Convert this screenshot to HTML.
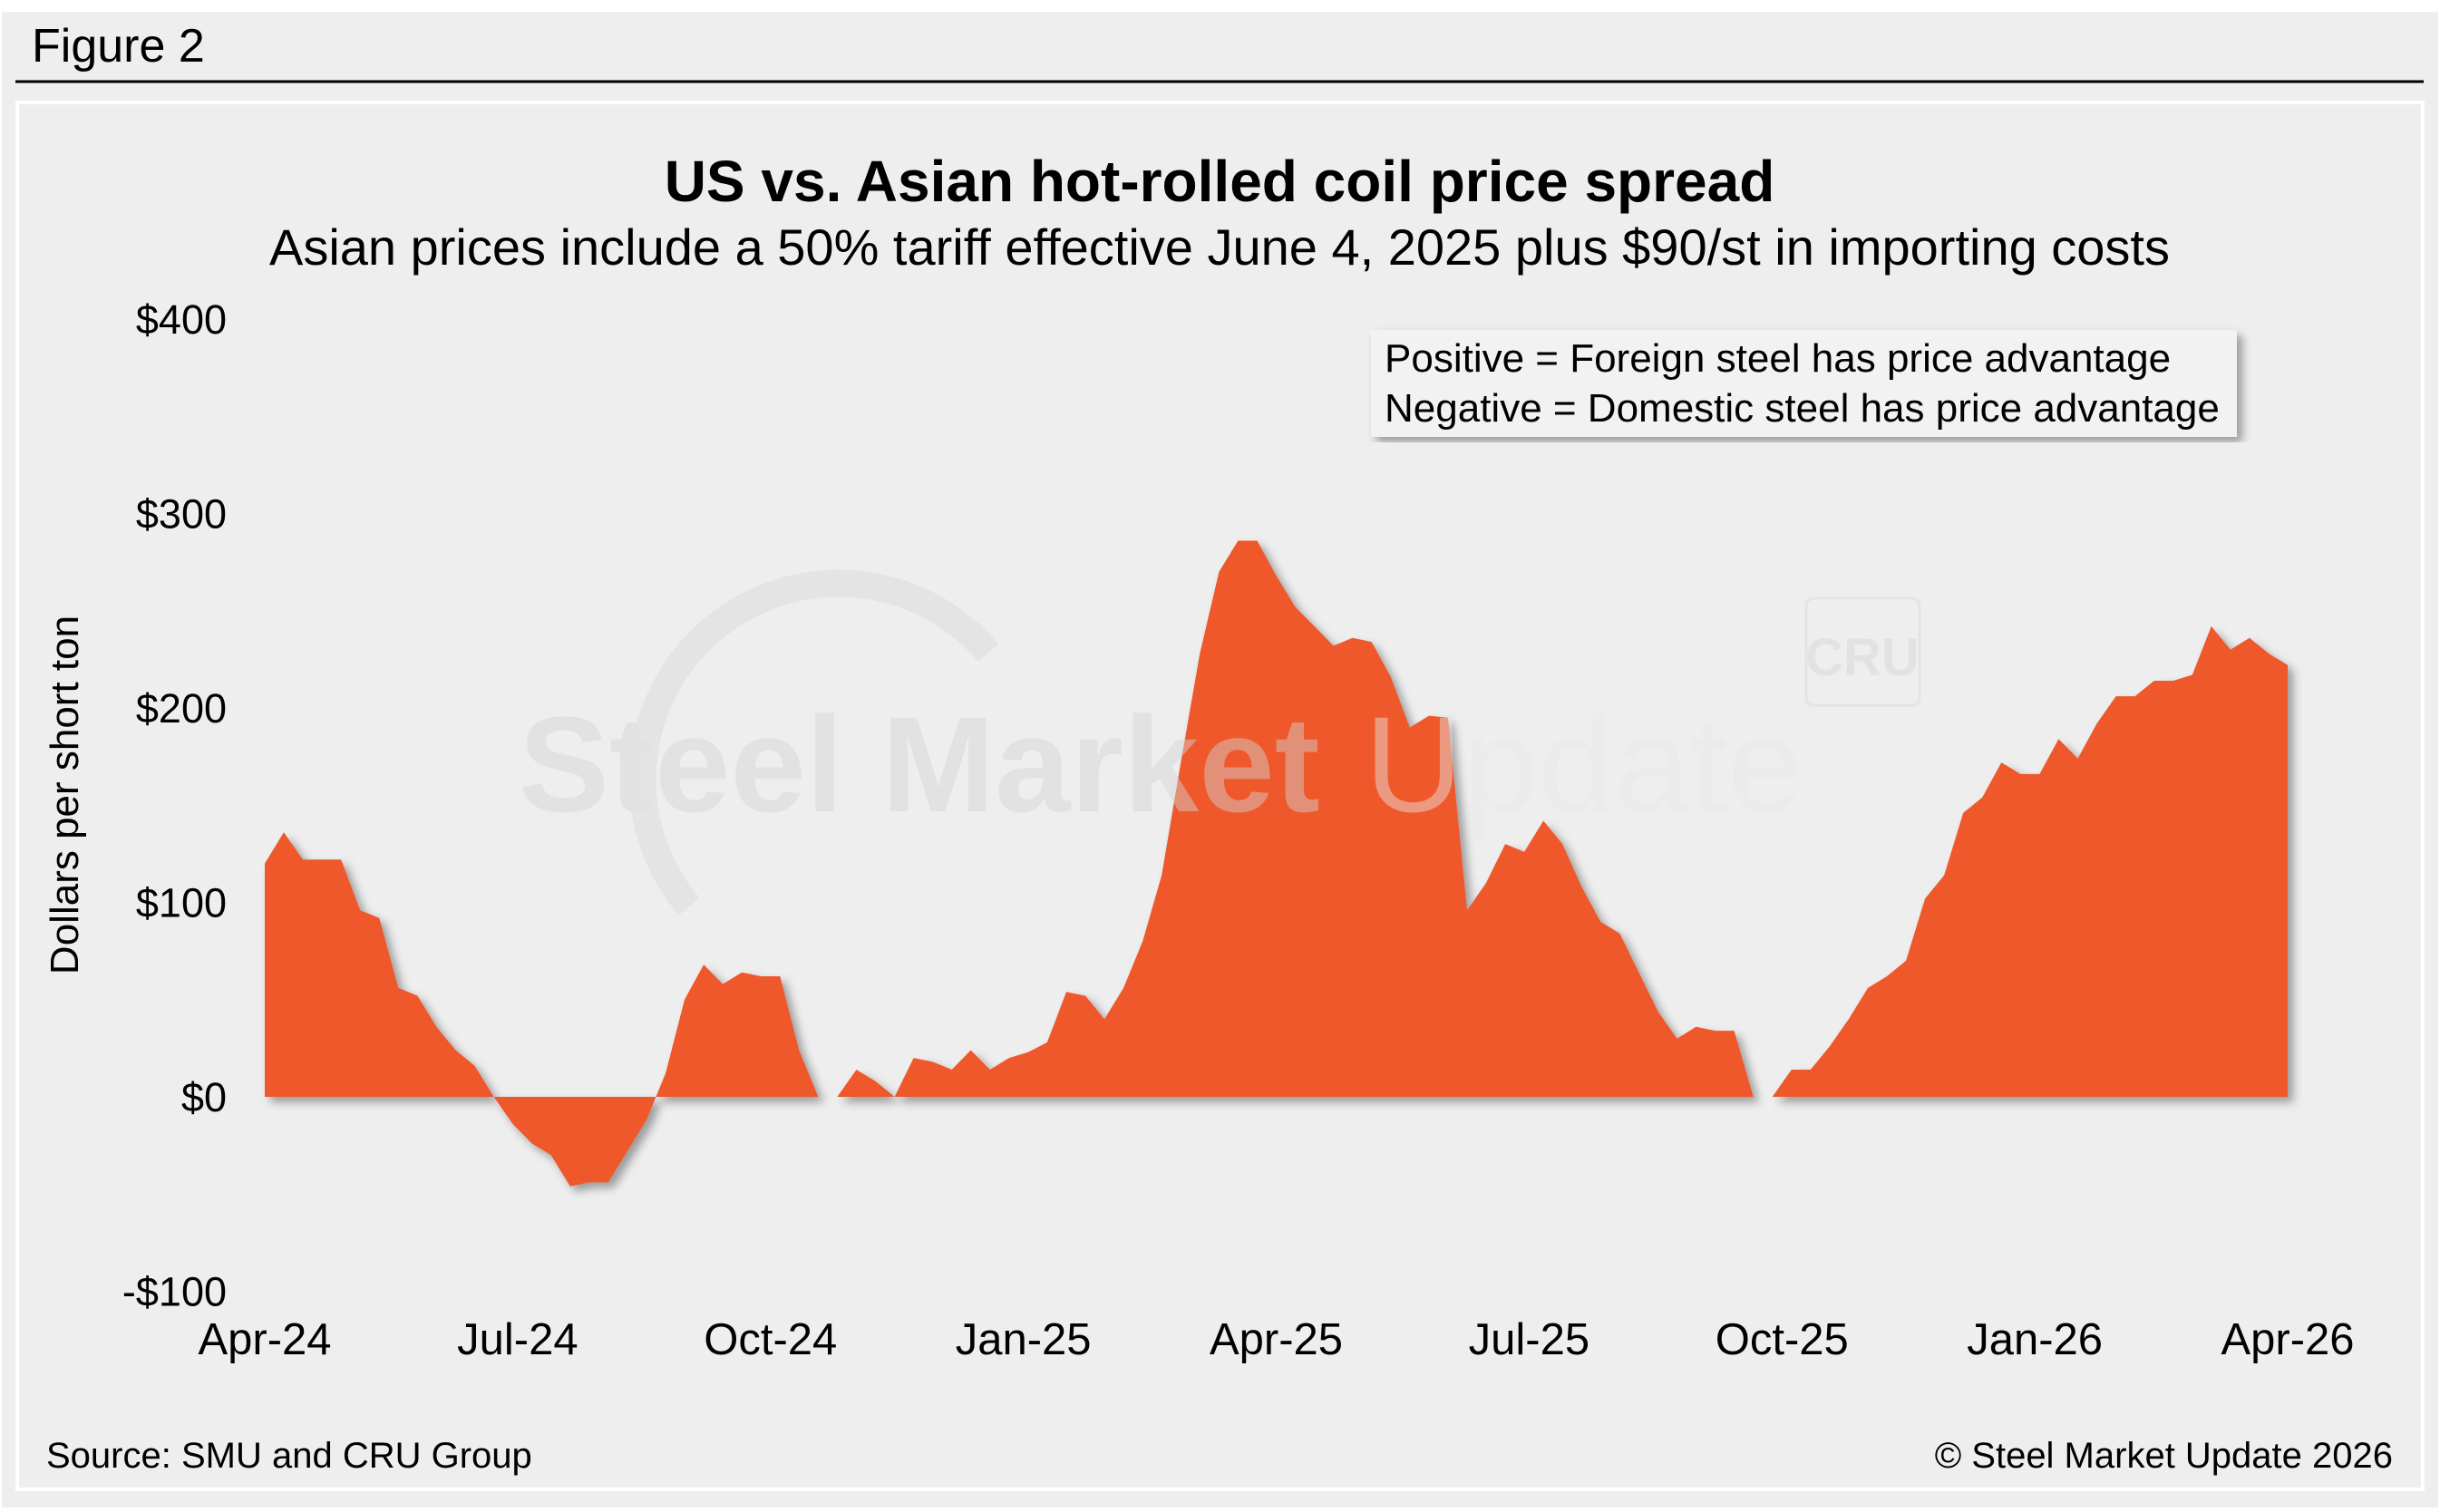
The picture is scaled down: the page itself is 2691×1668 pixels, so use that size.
<!DOCTYPE html>
<html><head><meta charset="utf-8">
<style>
html,body{margin:0;padding:0;background:#fff;}
body{width:2691px;height:1663px;position:relative;overflow:hidden;font-family:"Liberation Sans",sans-serif;}
</style></head>
<body>
<svg id="chart" width="2691" height="1663" viewBox="0 0 2691 1663" xmlns="http://www.w3.org/2000/svg">
<defs>
<filter id="sh" x="-5%" y="-5%" width="110%" height="110%">
<feDropShadow dx="6" dy="6" stdDeviation="5" flood-color="#000" flood-opacity="0.35"/>
</filter>
</defs>
<rect x="2" y="13" width="2687" height="1650" fill="#eeeeee"/>
<text x="35" y="68" font-size="52" fill="#000">Figure 2</text>
<line x1="17" y1="90" x2="2673" y2="90" stroke="#000" stroke-width="3"/>
<rect x="19" y="113" width="2653" height="1530" fill="none" stroke="#fff" stroke-width="4"/>
<text x="1345" y="222" font-size="64" font-weight="bold" text-anchor="middle">US vs. Asian hot-rolled coil price spread</text>
<text x="1345" y="292" font-size="56" text-anchor="middle">Asian prices include a 50% tariff effective June 4, 2025 plus $90/st in importing costs</text>
<g id="yaxis"></g>
<g id="xaxis"></g>
<g id="plot"></g>
<g id="watermark" opacity="0.45">
<path d="M 760 1000 A 190 190 0 1 1 1090 720" fill="none" stroke="#d8d8d8" stroke-width="30"/>
<text x="572" y="895" font-size="150" font-weight="bold" fill="#d4d4d4">Steel Market</text>
<text x="1505" y="895" font-size="150" fill="#e8e8e8">Update</text>
<rect x="1992" y="660" width="125" height="118" rx="8" fill="none" stroke="#d8d8d8" stroke-width="3"/>
<text x="2054" y="745" font-size="58" font-weight="bold" fill="#d4d4d4" text-anchor="middle">CRU</text>
</g>
<text transform="translate(86,877) rotate(-90)" font-size="44" text-anchor="middle">Dollars per short ton</text>
<g filter="url(#sh)">
<rect x="1512" y="364" width="955" height="118" fill="#f2f2f2"/>
</g>
<text x="1527" y="410" font-size="44">Positive = Foreign steel has price advantage</text>
<text x="1527" y="465" font-size="44">Negative = Domestic steel has price advantage</text>
<text x="51" y="1619" font-size="40">Source: SMU and CRU Group</text>
<text x="2639" y="1619" font-size="40" text-anchor="end">© Steel Market Update 2026</text>
</svg>
<script>
const values = [120,136,122,122,122,96,92,56,52,36,24,16,0,-14,-24,-30,-46,-44,-44,-28,-12,12,50,68,58,64,62,62,24,0,0,14,8,0,20,18,14,24,14,20,23,28,54,52,40,56,80,114,172,228,270,286,286,268,252,242,232,236,234,216,190,196,195,96,110,130,126,142,130,108,90,84,64,44,30,36,34,34,0,0,14,14,26,40,56,62,70,102,114,146,154,172,166,166,184,174,192,206,206,214,214,217,242,230,236,228,222];
const xTickLabels = ["Apr-24","Jul-24","Oct-24","Jan-25","Apr-25","Jul-25","Oct-25","Jan-26","Apr-26"];
const yTicks = [400,300,200,100,0,-100];
const yTickLabels = ["$400","$300","$200","$100","$0","-$100"];
const NS="http://www.w3.org/2000/svg";
const X0=292,X1=2523,Y0=1210,PX=2.145;
function xIdx(i){return X0+(X1-X0)*i/(values.length-1);}
function xTick(i){return X0+(X1-X0)*i/(xTickLabels.length-1);}
function y(v){return Y0-v*PX;}
const yax=document.getElementById('yaxis');
yTicks.forEach((t,i)=>{const e=document.createElementNS(NS,'text');
e.setAttribute('x',250);e.setAttribute('y',y(t)+16);e.setAttribute('font-size','45');e.setAttribute('text-anchor','end');
e.textContent=yTickLabels[i];


yax.appendChild(e);});
const xax=document.getElementById('xaxis');
xTickLabels.forEach((t,i)=>{const e=document.createElementNS(NS,'text');
e.setAttribute('x',xTick(i));e.setAttribute('y',1494);e.setAttribute('font-size','49');e.setAttribute('text-anchor','middle');
e.textContent=t;


xax.appendChild(e);});
let d='M'+xIdx(0)+','+y(0);
values.forEach((v,i)=>{d+=' L'+xIdx(i).toFixed(1)+','+y(v).toFixed(1);});
d+=' L'+xIdx(values.length-1)+','+y(0)+' Z';
const p=document.createElementNS(NS,'path');
p.setAttribute('d',d);p.setAttribute('fill','#ee582a');p.setAttribute('filter','url(#sh)');


document.getElementById('plot').appendChild(p);
</script>
</body></html>
